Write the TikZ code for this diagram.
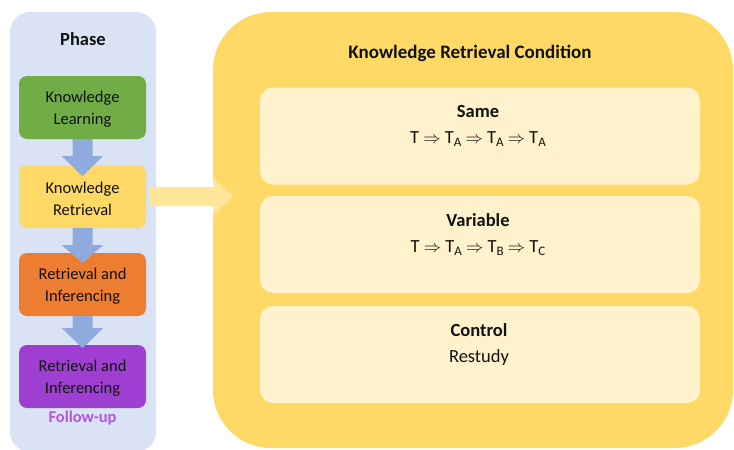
\documentclass[tikz,border=0pt]{standalone}
\usepackage{fontspec}
\setmainfont{Carlito}
\usetikzlibrary{calc}
\definecolor{panelblue}{HTML}{DAE3F3}
\definecolor{kgreen}{HTML}{70AD47}
\definecolor{kyellow}{HTML}{FFD966}
\definecolor{korange}{HTML}{ED7D31}
\definecolor{kpurple}{HTML}{9F3FD1}
\definecolor{fupurple}{HTML}{B455E2}
\definecolor{arrblue}{HTML}{8FAADC}
\definecolor{innerbox}{HTML}{FFF2CC}
\definecolor{bigarr}{HTML}{FFE699}
\definecolor{txt}{HTML}{111111}
\newcommand{\tsub}[1]{\raisebox{-0.25ex}{\fontsize{13}{13}\selectfont #1}}
\newcommand{\imp}{\ \ensuremath{\Rightarrow}\ }
\tikzset{
  phasebox/.style={rounded corners=8pt, minimum width=127pt, minimum height=63pt,
    align=center, font=\fontsize{16.5}{22}\selectfont, text=txt, inner sep=0pt},
  phasetext/.style={align=center, font=\fontsize{16.5}{22}\selectfont, text=txt, inner sep=0pt},
  condbox/.style={fill=innerbox, rounded corners=13pt, minimum width=440pt, minimum height=97pt, inner sep=0pt},
  condtext/.style={align=center, font=\fontsize{18.5}{26}\selectfont, text=txt},
  downarrow/.style={fill=arrblue},
}
\begin{document}
\begin{tikzpicture}[x=1pt,y=-1pt]
\useasboundingbox (0,0) rectangle (734,450);
% left panel
\fill[panelblue, rounded corners=20pt] (10,12) rectangle (156,452);
\node[font=\bfseries\fontsize{18.5}{22}\selectfont, text=txt] (phase) at (83,39) {Phase};
% right panel
\fill[kyellow, rounded corners=58pt] (213,12) rectangle (733,448);
\node[font=\bfseries\fontsize{19}{22}\selectfont, text=txt] (title) at (470,53) {Knowledge Retrieval Condition};
% phase boxes
\node[phasebox, fill=kgreen] (kl) at (82.5,107.5) {};
\node[phasetext] at (82.5,109.5) {Knowledge\\Learning};
\node[phasebox, fill=kyellow] (kr) at (82.5,196.5) {};
\node[phasetext] at (82.5,198.5) {Knowledge\\Retrieval};
\node[phasebox, fill=korange] (ri1) at (82.5,284.5) {};
\node[phasetext] at (82.5,286.5) {Retrieval and\\Inferencing};
\node[phasebox, fill=kpurple] (ri2) at (82.5,376.5) {};
\node[phasetext] at (82.5,378.5) {Retrieval and\\Inferencing};
\node[font=\bfseries\fontsize{16.5}{20}\selectfont, text=fupurple] (fu) at (82.5,418) {Follow-up};
% down arrows
\fill[downarrow] ($(kl.south)+(-10,0)$) -- ($(kl.south)+(10,0)$) -- ($(kl.south)+(10,17)$) -- ($(kl.south)+(20.5,17)$)
  -- ($(kl.south)+(0,37)$) -- ($(kl.south)+(-20.5,17)$) -- ($(kl.south)+(-10,17)$) -- cycle;
\fill[downarrow] ($(kr.south)+(-10,0)$) -- ($(kr.south)+(10,0)$) -- ($(kr.south)+(10,17)$) -- ($(kr.south)+(20.5,17)$)
  -- ($(kr.south)+(0,35)$) -- ($(kr.south)+(-20.5,17)$) -- ($(kr.south)+(-10,17)$) -- cycle;
\fill[downarrow] ($(ri1.south)+(-10,0)$) -- ($(ri1.south)+(10,0)$) -- ($(ri1.south)+(10,12)$) -- ($(ri1.south)+(20.5,12)$)
  -- ($(ri1.south)+(0,32)$) -- ($(ri1.south)+(-20.5,12)$) -- ($(ri1.south)+(-10,12)$) -- cycle;
% condition boxes
\node[condbox] (same) at (480,136) {};
\node[condtext] at (478,126) {\textbf{Same}\\T\imp T\tsub{A}\imp T\tsub{A}\imp T\tsub{A}};
\node[condbox] (var) at (480,244.5) {};
\node[condtext] at (478,234.5) {\textbf{Variable}\\T\imp T\tsub{A}\imp T\tsub{B}\imp T\tsub{C}};
\node[condbox] (ctrl) at (480,354.5) {};
\node[condtext] at (479,344) {\textbf{Control}\\Restudy};
% big arrow
\coordinate (bs) at ($(kr.east)+(4,0)$);
\fill[bigarr] ($(bs)+(0,-9.5)$) -- ($(bs)+(63,-9.5)$) -- ($(bs)+(63,-19)$) -- ($(bs)+(83,0)$)
  -- ($(bs)+(63,19)$) -- ($(bs)+(63,9.5)$) -- ($(bs)+(0,9.5)$) -- cycle;
\end{tikzpicture}
\end{document}
